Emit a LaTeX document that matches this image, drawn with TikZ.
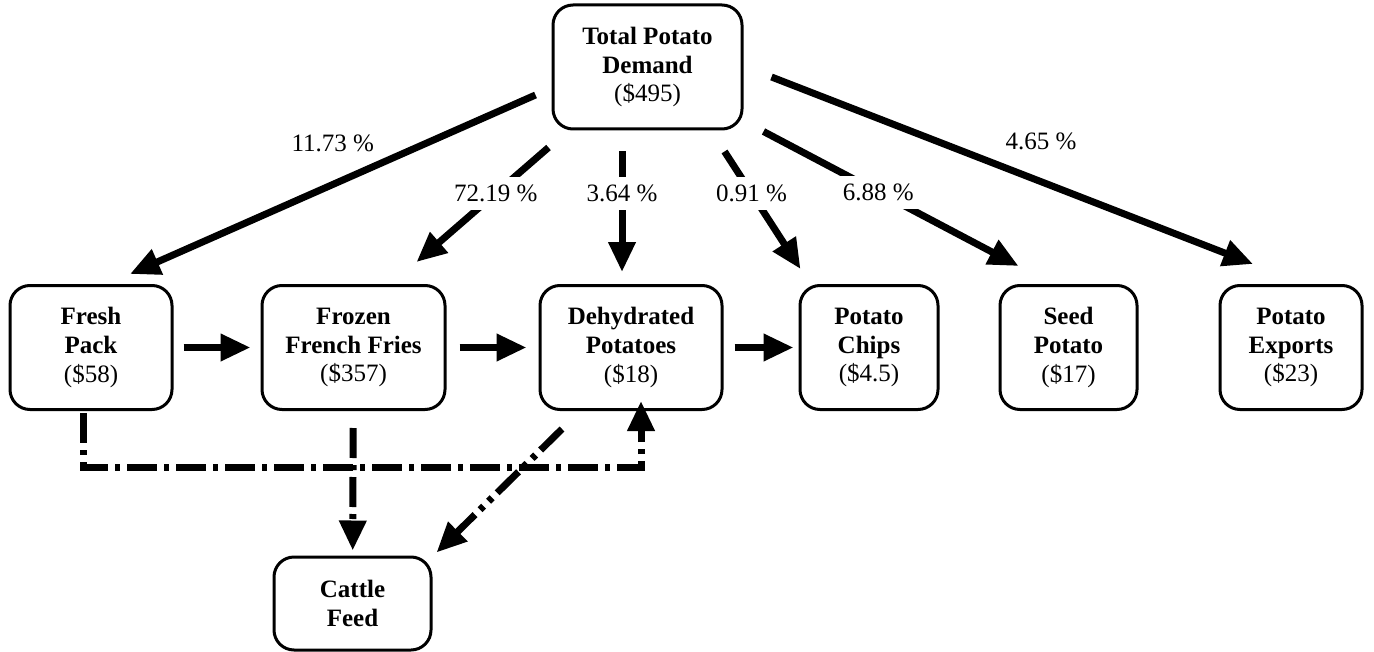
\documentclass[tikz,border=0pt]{standalone}
\usepackage{fontspec}
\setmainfont{Liberation Serif}
\usetikzlibrary{arrows.meta,calc}

\begin{document}
\begin{tikzpicture}[
    x=0.5pt, y=-0.5pt,
    font=\fontsize{12.5}{14.3}\selectfont,
    box/.style={draw, line width=1.5pt, rounded corners=10pt, align=center, minimum height=62pt, inner sep=2pt},
    arrow/.style={-{Triangle[length=15pt,width=13pt]}, line width=3.5pt},
    dashdot/.style={arrow, dash pattern=on 15pt off 3.5pt on 2.5pt off 3.5pt},
    dashdotdot/.style={arrow, dash pattern=on 15pt off 3.5pt on 2.5pt off 3.5pt on 2.5pt off 3.5pt},
    pct/.style={fill=white, inner sep=4pt}
]
\useasboundingbox (0,0) rectangle (1374,652);

\node[box, minimum width=94.5pt] (total) at (647.5,67) {\textbf{Total Potato}\\\textbf{Demand}\\(\$495)};

\node[box, minimum width=81pt] (fresh) at (91,347.5) {\textbf{Fresh}\\\textbf{Pack}\\(\$58)};
\node[box, minimum width=91.5pt] (frozen) at (353.5,347.5) {\textbf{Frozen}\\\textbf{French Fries}\\(\$357)};
\node[box, minimum width=91pt] (dehyd) at (631,347.5) {\textbf{Dehydrated}\\\textbf{Potatoes}\\(\$18)};
\node[box, minimum width=69pt] (chips) at (869,347.5) {\textbf{Potato}\\\textbf{Chips}\\(\$4.5)};
\node[box, minimum width=68.5pt] (seed) at (1068.5,347.5) {\textbf{Seed}\\\textbf{Potato}\\(\$17)};
\node[box, minimum width=71pt] (exports) at (1291,347.5) {\textbf{Potato}\\\textbf{Exports}\\(\$23)};

\node[box, minimum width=78.5pt, minimum height=46.5pt] (cattle) at (352.5,603.5) {\textbf{Cattle}\\\textbf{Feed}};

% shares of total demand
\draw[arrow] ($(total.west)+(-16,28)$) -- ($(fresh.north)+(39,-10)$)
    node[pos=0.5, above=11pt] {11.73 \%};
\draw[arrow] ($(total.south west)+(-3,17)$) -- ($(frozen.north east)+(-30,-22)$)
    node[pct, pos=0.4] {72.19 \%};
\draw[arrow] ($(total.south)+(-25.5,21)$) -- ($(dehyd.north)+(-9,-12)$)
    node[pct, pos=0.35] {3.64 \%};
\draw[arrow] ($(total.south east)+(-19,21)$) -- ($(chips.north west)+(2,-15)$)
    node[pct, pos=0.355] {0.91 \%};
\draw[arrow] ($(total.south east)+(20,1)$) -- ($(seed.north west)+(20,-18)$)
    node[pct, pos=0.45] {6.88 \%};
\draw[arrow] ($(total.east)+(28,10)$) -- ($(exports.north)+(-38,-20)$)
    node[pos=0.56, above=11pt] {4.65 \%};

% processing chain
\draw[arrow, shorten <=5pt, shorten >=5pt] (fresh) -- (frozen);
\draw[arrow, shorten <=6.5pt, shorten >=6pt] (frozen) -- (dehyd);
\draw[arrow, shorten <=5.5pt, shorten >=2.5pt] (dehyd) -- (chips);

% by-products
\draw[dashdot] ($(fresh.south)+(-8,2)$) -- ++(0,54) -| ($(dehyd.south)+(10,-10)$);
\draw[dashdot, shorten <=8.5pt, shorten >=2.5pt] (frozen) -- (cattle);
\draw[dashdotdot] ($(dehyd.south)+(-69,18)$) -- ($(cattle.north east)+(4,-3)$);

\end{tikzpicture}
\end{document}
